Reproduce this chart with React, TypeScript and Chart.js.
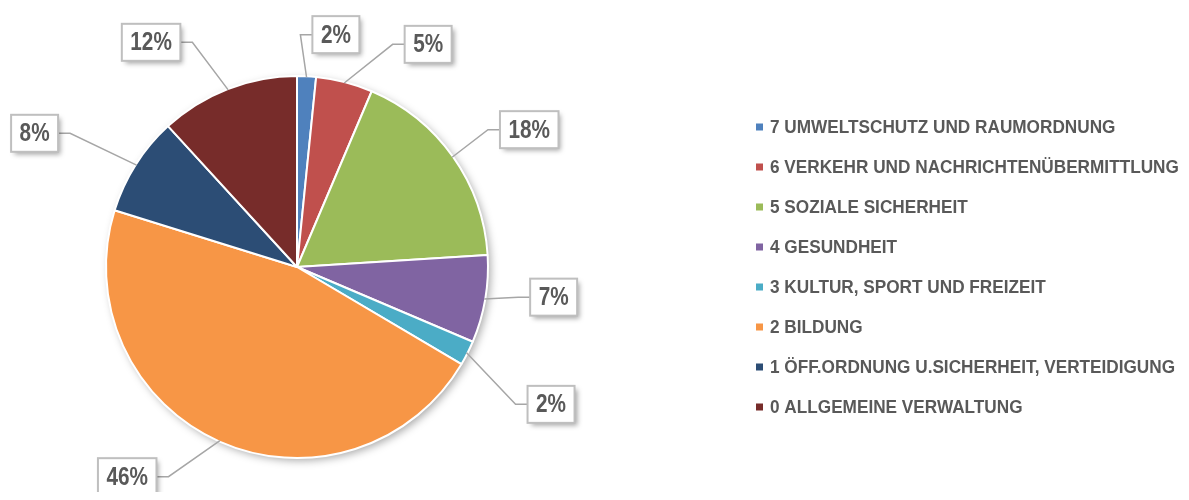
import React, { useEffect, useRef } from "react";
import { Chart, registerables } from "chart.js";

Chart.register(...registerables);

// ---- data ----
const categories = [
  "7 UMWELTSCHUTZ UND RAUMORDNUNG",
  "6 VERKEHR UND NACHRICHTENÜBERMITTLUNG",
  "5 SOZIALE SICHERHEIT",
  "4 GESUNDHEIT",
  "3 KULTUR, SPORT UND FREIZEIT",
  "2 BILDUNG",
  "1 ÖFF.ORDNUNG U.SICHERHEIT, VERTEIDIGUNG",
  "0 ALLGEMEINE VERWALTUNG",
];
const shares = [1.6, 4.8, 17.6, 7.4, 2.1, 46.3, 8.4, 11.8];
const sliceColors = [
  "#4F81BD",
  "#C0504D",
  "#9BBB59",
  "#8064A2",
  "#4BACC6",
  "#F79646",
  "#2C4D75",
  "#772C2A",
];

// ---- label placement (layout, not data) ----
const calloutAngleDeg = [9.5, 30.5, 59.4, 96.7, 118.4, 219, 297, 327];
const calloutDistRatio = [1.24, 1.36, 1.42, 1.36, 1.52, 1.42, 1.55, 1.41];

const FONT = '"Liberation Sans Narrow", "Arial Narrow", "Liberation Sans", Arial, sans-serif';
const TEXT_COLOR = "#595959";
const LEGEND_X = 748;
const LEGEND_SPACING = 40;
const LEGEND_FONT_SIZE = 19;
const LEGEND_SCALE_X = 0.905;
const LABEL_FONT_SIZE = 25;
const LABEL_SCALE_X = 0.83;

function drawNarrowText(
  ctx: CanvasRenderingContext2D,
  text: string,
  x: number,
  y: number,
  scaleX: number,
  align: CanvasTextAlign
) {
  ctx.save();
  ctx.translate(x, y);
  ctx.scale(scaleX, 1);
  ctx.textAlign = align;
  ctx.fillText(text, 0, 0);
  ctx.restore();
}

const decorPlugin = {
  id: "decor",
  beforeDatasetsDraw(chart: any) {
    const meta = chart.getDatasetMeta(0);
    const el = meta.data[0];
    if (!el) return;
    const { x, y, outerRadius } = el.getProps(["x", "y", "outerRadius"], true);
    const ctx = chart.ctx;
    ctx.save();
    ctx.shadowColor = "rgba(0,0,0,0.35)";
    ctx.shadowBlur = 8;
    ctx.shadowOffsetX = 3;
    ctx.shadowOffsetY = 3;
    ctx.fillStyle = "#ffffff";
    ctx.beginPath();
    ctx.arc(x, y, outerRadius - 0.5, 0, Math.PI * 2);
    ctx.fill();
    ctx.restore();
  },
  afterDatasetsDraw(chart: any) {
    const ctx = chart.ctx;
    const meta = chart.getDatasetMeta(0);
    const values: number[] = chart.data.datasets[0].data;
    const total = values.reduce((a, b) => a + b, 0);
    meta.data.forEach((el: any, i: number) => {
      const { x, y, startAngle, endAngle, outerRadius } = el.getProps(
        ["x", "y", "startAngle", "endAngle", "outerRadius"],
        true
      );
      const mid = (startAngle + endAngle) / 2;
      const r = outerRadius - 1;
      const sx = x + Math.cos(mid) * r;
      const sy = y + Math.sin(mid) * r;
      const a = ((calloutAngleDeg[i] - 90) * Math.PI) / 180;
      const d = r * calloutDistRatio[i];
      const cx = x + Math.cos(a) * d;
      const cy = y + Math.sin(a) * d;
      const text = Math.round((values[i] / total) * 100) + "%";
      ctx.save();
      ctx.font = `bold ${LABEL_FONT_SIZE}px ${FONT}`;
      const tw = ctx.measureText(text).width * LABEL_SCALE_X;
      const bw = tw + 17;
      const bh = 37;
      const left = cx - bw / 2;
      const top = cy - bh / 2;
      const rightSide = cx > x;
      const edgeX = rightSide ? left : left + bw;
      const elbowX = rightSide ? edgeX - 12 : edgeX + 12;
      // leader line
      ctx.strokeStyle = "#A6A6A6";
      ctx.lineWidth = 1.5;
      ctx.beginPath();
      ctx.moveTo(sx, sy);
      ctx.lineTo(elbowX, cy);
      ctx.lineTo(edgeX, cy);
      ctx.stroke();
      // box with shadow
      ctx.save();
      ctx.shadowColor = "rgba(0,0,0,0.35)";
      ctx.shadowBlur = 5;
      ctx.shadowOffsetX = 3;
      ctx.shadowOffsetY = 3;
      ctx.fillStyle = "#ffffff";
      ctx.fillRect(left, top, bw, bh);
      ctx.restore();
      ctx.strokeStyle = "#BFBFBF";
      ctx.lineWidth = 2;
      ctx.strokeRect(left, top, bw, bh);
      ctx.fillStyle = TEXT_COLOR;
      ctx.textBaseline = "middle";
      drawNarrowText(ctx, text, cx, cy + 1, LABEL_SCALE_X, "center");
      ctx.restore();
    });
  },
  afterDraw(chart: any) {
    const ctx = chart.ctx;
    const meta = chart.getDatasetMeta(0);
    const el = meta.data[0];
    if (!el) return;
    const cyc = el.y;
    const labels: string[] = chart.data.labels;
    const cols: string[] = chart.data.datasets[0].backgroundColor;
    const n = labels.length;
    ctx.save();
    ctx.font = `bold ${LEGEND_FONT_SIZE}px ${FONT}`;
    ctx.textBaseline = "middle";
    labels.forEach((lab, i) => {
      const ry = cyc + (i - (n - 1) / 2) * LEGEND_SPACING;
      ctx.fillStyle = cols[i];
      ctx.fillRect(LEGEND_X, ry - 3.5, 7, 7);
      ctx.fillStyle = TEXT_COLOR;
      drawNarrowText(ctx, lab, LEGEND_X + 14, ry + 1, LEGEND_SCALE_X, "left");
    });
    ctx.restore();
  },
};

export default function App() {
  const canvasRef = useRef<HTMLCanvasElement | null>(null);

  useEffect(() => {
    if (!canvasRef.current) return;
    const chart = new Chart(canvasRef.current, {
      type: "pie",
      data: {
        labels: categories,
        datasets: [
          {
            data: shares,
            backgroundColor: sliceColors,
            borderColor: "#ffffff",
            borderWidth: 2,
          },
        ],
      },
      options: {
        animation: false,
        responsive: true,
        maintainAspectRatio: false,
        layout: { padding: { top: 67, bottom: 33, left: 97, right: 692 } },
        plugins: {
          legend: { display: false },
          tooltip: { enabled: false },
        },
      },
      plugins: [decorPlugin],
    });
    let alive = true;
    if ((document as any).fonts && (document as any).fonts.load) {
      Promise.all([
        (document as any).fonts.load(`bold ${LEGEND_FONT_SIZE}px ${FONT}`),
        (document as any).fonts.load(`bold ${LABEL_FONT_SIZE}px ${FONT}`),
      ]).then(() => {
        if (alive) chart.update();
      });
    }
    return () => {
      alive = false;
      chart.destroy();
    };
  }, []);

  return (
    <div style={{ width: 1173, height: 484, position: "relative" }}>
      <canvas ref={canvasRef} />
    </div>
  );
}
